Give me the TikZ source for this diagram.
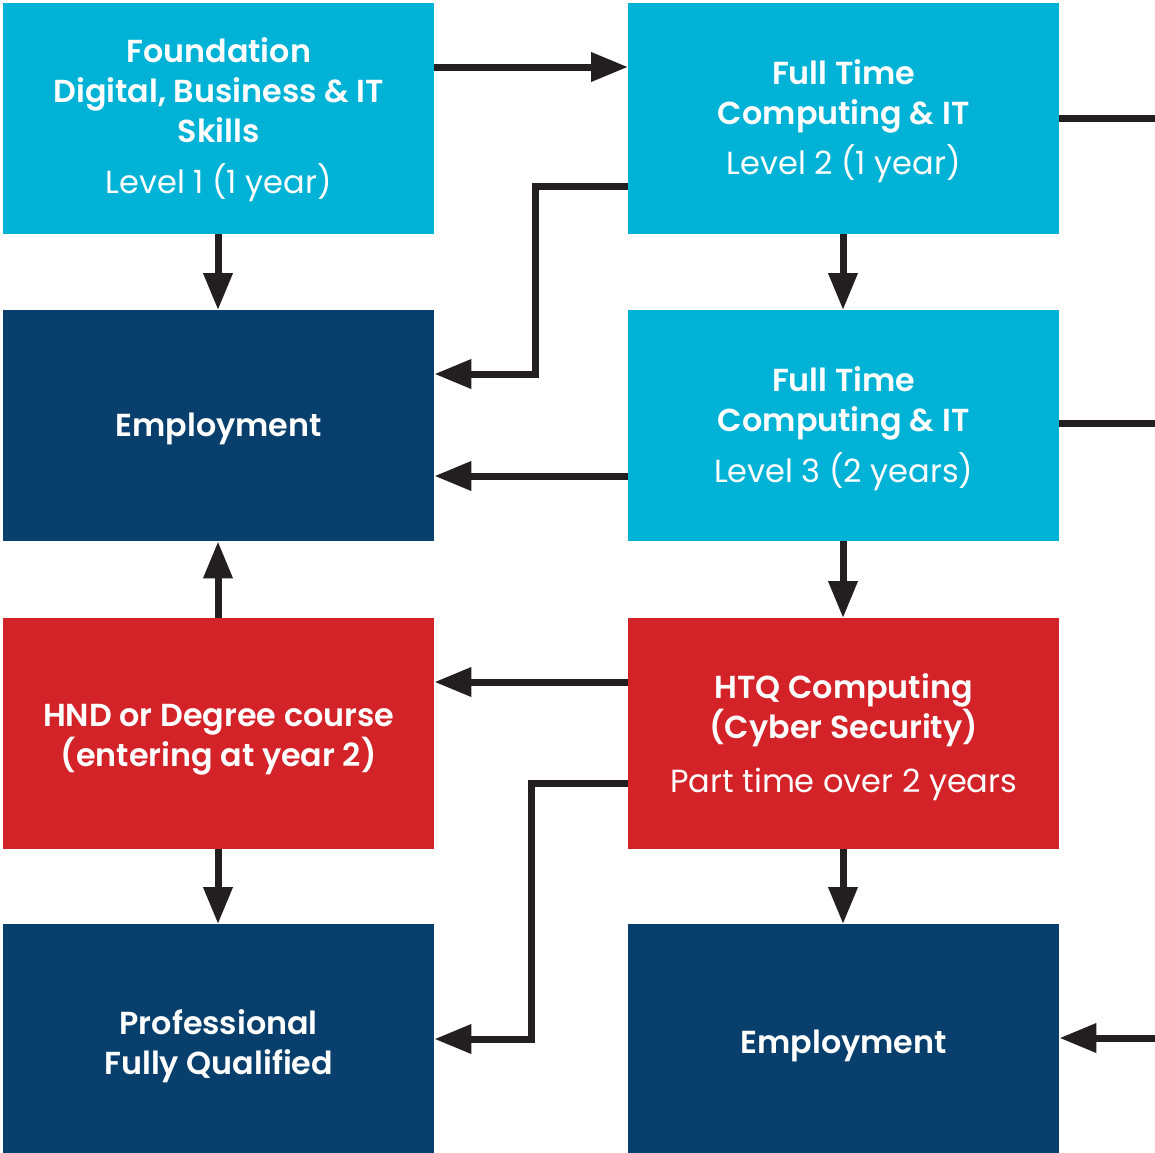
\documentclass[tikz,border=0pt]{standalone}
\usepackage{fontspec}
\setmainfont{Poppins}[BoldFont={Poppins SemiBold}]
\usetikzlibrary{arrows.meta}
\definecolor{cyanbox}{HTML}{00B3D6}
\definecolor{navybox}{HTML}{083F6D}
\definecolor{redbox}{HTML}{D42229}
\definecolor{linec}{HTML}{231F20}
\tikzset{
  box/.style={minimum width=431pt, minimum height=231pt, inner sep=0pt, anchor=north west},
  cbox/.style={box, fill=cyanbox},
  nbox/.style={box, fill=navybox},
  rbox/.style={box, fill=redbox},
  txt/.style={text=white, align=center, inner sep=0pt, font=\fontsize{31.8}{40}\selectfont\bfseries},
  conn/.style={draw=linec, line width=7pt, -{Triangle[length=37pt,width=28pt]}},
  plain/.style={draw=linec, line width=7pt},
}
\newcommand{\lvl}[1]{{\mdseries\fontsize{32}{40}\selectfont #1}}
\begin{document}
\begin{tikzpicture}[x=1pt,y=-1pt]
\useasboundingbox (0,0) rectangle (1155,1152);
\begin{scope}
\clip (0,0) rectangle (1155,1152);
\node[cbox] (f) at (3,3) {};
\node[cbox] (l2) at (628,3) {};
\node[nbox] (e1) at (3,310) {};
\node[cbox] (l3) at (628,310) {};
\node[rbox] (h) at (3,618) {};
\node[rbox] (q) at (628,618) {};
\node[nbox] (p) at (3,924) {};
\node[nbox] (e2) at (628,924) {};
\end{scope}
\node[txt] (ft) at ([yshift=-1pt]f.center) {Foundation\\Digital, Business \& IT\\Skills\\[11pt]\lvl{Level 1 (1 year)}};
\node[txt] (l2t) at ([yshift=-2pt]l2.center) {Full Time\\Computing \& IT\\[10pt]\lvl{Level 2 (1 year)}};
\node[txt] (e1t) at ([yshift=-3pt]e1.center) {Employment};
\node[txt] (l3t) at ([yshift=-3pt]l3.center) {Full Time\\Computing \& IT\\[11pt]\lvl{Level 3 (2 years)}};
\node[txt] (ht) at ([yshift=-6pt]h.center) {HND or Degree course\\(entering at year 2)};
\node[txt] (qt) at ([yshift=-3pt]q.center) {HTQ Computing\\(Cyber Security)\\[14pt]\lvl{Part time over 2 years}};
\node[txt] (pt) at ([yshift=-6pt]p.center) {Professional\\Fully Qualified};
\node[txt] (e2t) at ([yshift=-6pt]e2.center) {Employment};
\coordinate (r1) at (1155,118);
\coordinate (r2) at (1155,423);
\coordinate (r3) at (1155,1038);
% connectors
\draw[conn] (f.east |- 0,67) -- (l2.west |- 0,67);
\draw[plain] (l2.east |- r1) -- (r1);
\draw[conn] (l2.west |- 0,186) -| (535,374) -- (e1.east |- 0,374);
\draw[conn] (f.south -| 218,0) -- (e1.north -| 218,0);
\draw[conn] (l2.south -| 843,0) -- (l3.north -| 843,0);
\draw[plain] (l3.east |- r2) -- (r2);
\draw[conn] (l3.west |- 0,476) -- (e1.east |- 0,476);
\draw[conn] (l3.south -| 843,0) -- (q.north -| 843,0);
\draw[conn] (h.north -| 218,0) -- (e1.south -| 218,0);
\draw[conn] (q.west |- 0,682) -- (h.east |- 0,682);
\draw[conn] (q.west |- 0,783) -| (531,1039) -- (p.east |- 0,1039);
\draw[conn] (h.south -| 218,0) -- (p.north -| 218,0);
\draw[conn] (q.south -| 843,0) -- (e2.north -| 843,0);
\draw[conn] (r3) -- (e2.east |- r3);
\end{tikzpicture}
\end{document}
